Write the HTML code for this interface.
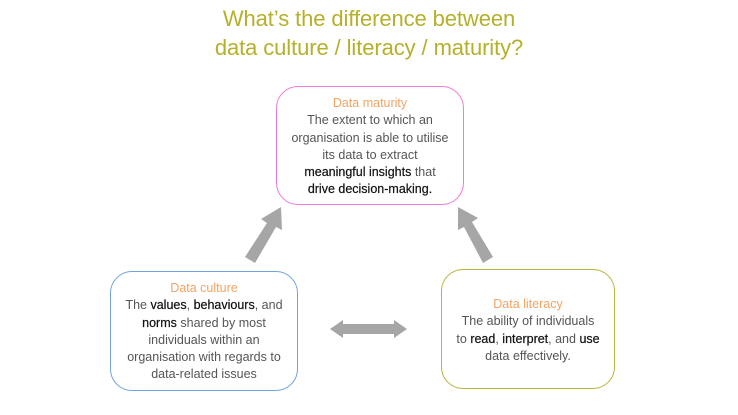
<!DOCTYPE html>
<html><head><meta charset="utf-8"><style>
body{margin:0;width:738px;height:415px;background:#fff;position:relative;overflow:hidden;font-family:"Liberation Sans",sans-serif}
.t{position:absolute;left:0;width:738px;text-align:center;color:#b5b02a;font-size:22px;letter-spacing:-0.1px}
.box{position:absolute;box-sizing:border-box;border-radius:22px;text-align:center;font-size:12.5px;line-height:17.3px;color:#555}
.box .h{color:#f4a361}
b{font-weight:normal;color:#111;-webkit-text-stroke:0.2px #111}
svg{position:absolute;left:0;top:0}
</style></head><body>
<div class="t" style="top:6px">What’s the difference between</div>
<div class="t" style="top:35px">data culture / literacy / maturity?</div>
<svg width="738" height="415">
<g fill="#a6a6a6">
<polygon points="245,257 255,263 276,227 282,230 281,207 261,219 267,223"/>
<polygon points="483,263 493,257 472,222 478,218 458,207 458,230 464,227"/>
<polygon points="330,329 343,320 343,324 394,324 394,320 407,329 394,338 394,334 343,334 343,338"/>
</g></svg>
<div class="box" style="left:276px;top:86px;width:188px;height:119px;border:1px solid #f07ad8;padding-top:8px">
<div class="h">Data maturity</div>The extent to which an<br>organisation is able to utilise<br>its data to extract<br><b>meaningful insights</b> that<br><b>drive decision-making.</b></div>
<div class="box" style="left:110px;top:271px;width:188px;height:120px;border:1px solid #6fa3df;padding-top:8px">
<div class="h">Data culture</div>The <b>values</b>, <b>behaviours</b>, and<br><b>norms</b> shared by most<br>individuals within an<br>organisation with regards to<br>data-related issues</div>
<div class="box" style="left:441px;top:269px;width:174px;height:120px;border:1px solid #b9b43a;padding-top:26px">
<div class="h">Data literacy</div>The ability of individuals<br>to <b>read</b>, <b>interpret</b>, and <b>use</b><br>data effectively.</div>
</body></html>
